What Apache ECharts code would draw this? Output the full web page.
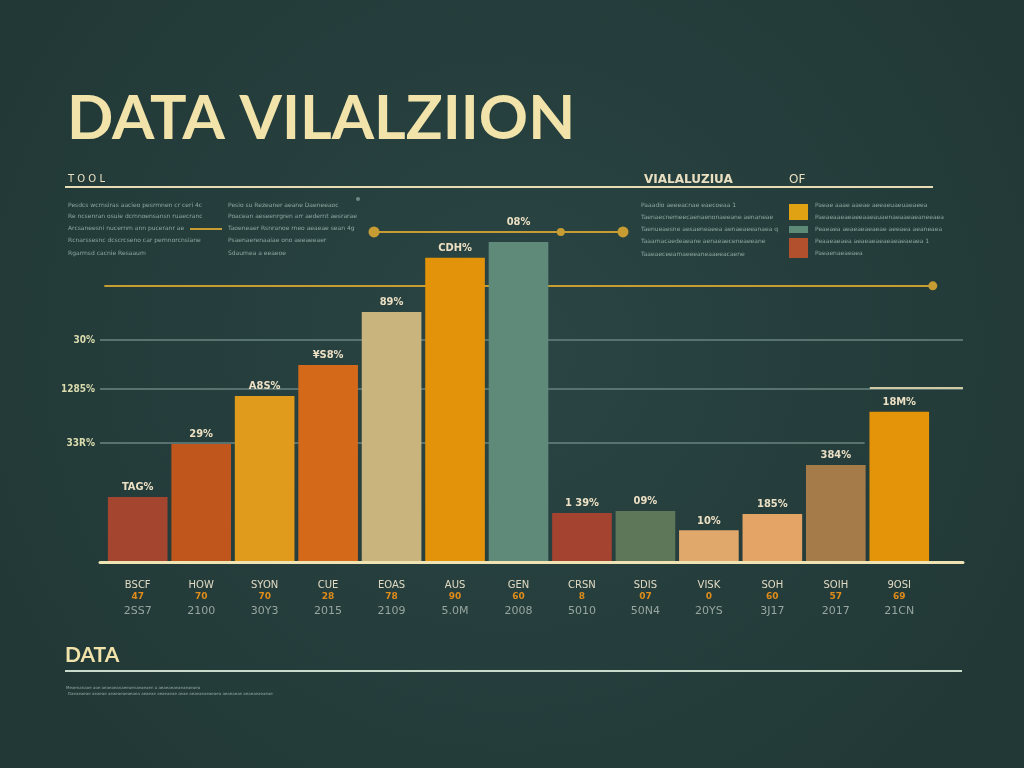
<!DOCTYPE html>
<html><head><meta charset="utf-8">
<script src="https://cdn.jsdelivr.net/npm/echarts@6/dist/echarts.min.js"></script>
<style>html,body{margin:0;padding:0;background:#274140}#c{width:1024px;height:768px}</style>
</head><body><div id="c"></div>
<script>
// ---- data ----
const categories = ['BSCF','HOW','SYON','CUE','EOAS','AUS','GEN','CRSN','SDIS','VISK','SOH','SOIH','9OSI'];
const catNums = ['47','70','70','28','78','90','60','8','07','0','60','57','69'];
const catYears = ['2SS7','2100','30Y3','2015','2109','5.0M','2008','5010','50N4','20YS','3J17','2017','21CN'];
const values = [18.6, 33.7, 47.4, 56.3, 71.4, 86.9, 91.4, 14.0, 14.6, 9.1, 13.7, 27.7, 42.9];
const valueLabels = ['TAG%','29%','A8S%','¥S8%','89%','CDH%','08%','1 39%','09%','10%','185%','384%','18M%'];
const yTickValues = [0, 19.7, 34.0, 49.4, 63.4];
const yTickLabels = ['VEC9%','SO%','33R%','1285%','30%'];
const barColors = ['#a3452f','#c0561c','#e09a1c','#d4691a','#c9b47e','#e39309','#5f8978','#a4432f','#5f7759','#e1a86b','#e3a466','#a67b4a','#e39409'];

const chart = echarts.init(document.getElementById('c'), null, {renderer:'canvas'});

const cream = '#f1e3a9';
const gold = '#c79d33';
const gridGray = '#58736f';
const smallTxt = '#8fa6a0';

function txt(x, y, text, opt) {
  return {type:'text', x:x, y:y, silent:true, style:Object.assign({text:text, fill:smallTxt, fontSize:6, fontFamily:'DejaVu Sans', verticalAlign:'middle'}, opt||{})};
}
function block(x, ys, lines) {
  return lines.map((l,i)=>txt(x, ys[i], l));
}
const ys = [205, 216, 228, 240, 253];
const b1 = ['Pesdcs wcrnsiras aacieo pesrmnen cr ceri 4c','Re ncsenran osuie dcmnoensansn ruaecranc','Arcsaneesni nucernm ann puceranr ae','Rcnarssesnc dcscrcseno car pernnorcnsiane','Rgarmsd cacnie Resaaum'];
const b2 = ['Pesio su Rezeaner aeane Daeneeaoc','Poacean aeseenrgren arr aedernt aesrarae','Taoeneaer Rsnranoe rneo aeaeae sean 4g','Psaenaerenaaiae ono aeeaeeaer','Sdaumea a eeaeoe'];
const b3 = ['Paaadio aeeeacnae eaecoeaa 1','Taenaecnemeecaenaenonaeeane aenaneae','Taenueaesne aesaeneaeea aenaeaeeanaea q','Taaamacaedeaeane aenaeaeceneaeeane','Taaeaeceeamaeeeaneaaeeacaene'];
const b4 = ['Paeae aaae aaeae aeeaeuaeuaeaeea','Paeaeaaeaeaeeaaeauaenaeaaeaeaneeaea','Peaeaea aeaeaeaeaeae aeeaea aeaneaea','Peaaeaeaea aeaeaeaeaeaeaeaeaea 1','Paeaenaeaeaea'];

const graphics = [
  {type:'text', x:67, y:119, silent:true, style:{text:'DATA VILALZIION', fill:cream, fontSize:61, fontFamily:'Lato', fontWeight:'bold', verticalAlign:'middle'}},
  {type:'text', x:68, y:179, silent:true, style:{text:'T O O L', fill:'#e9dfc0', fontSize:10, fontFamily:'DejaVu Sans', verticalAlign:'middle'}},
  {type:'text', x:644, y:180, silent:true, style:{text:'VIALALUZIUA', fill:'#e9dfc0', fontSize:12, fontWeight:'bold', fontFamily:'DejaVu Sans', verticalAlign:'middle'}},
  {type:'text', x:789, y:180, silent:true, style:{text:'OF', fill:'#e9dfc0', fontSize:12, fontFamily:'DejaVu Sans', verticalAlign:'middle'}},
  {type:'line', silent:true, shape:{x1:65, y1:187, x2:933, y2:187}, style:{stroke:'#e6ddb4', lineWidth:2}},
  {type:'circle', silent:true, shape:{cx:358, cy:199, r:2}, style:{fill:'#6f8884'}},
  {type:'line', silent:true, shape:{x1:190, y1:229, x2:222, y2:229}, style:{stroke:gold, lineWidth:2}},
  {type:'rect', silent:true, shape:{x:789, y:204, width:19, height:16}, style:{fill:'#e0a112'}},
  {type:'rect', silent:true, shape:{x:789, y:226, width:19, height:7}, style:{fill:'#5e8a78'}},
  {type:'rect', silent:true, shape:{x:789, y:238, width:19, height:20}, style:{fill:'#b24f2c'}},
  {type:'text', x:65, y:655, silent:true, style:{text:'DATA', fill:cream, fontSize:21, fontWeight:'bold', fontFamily:'Lato', verticalAlign:'middle'}},
  {type:'line', silent:true, shape:{x1:65, y1:671, x2:962, y2:671}, style:{stroke:'#c9dccb', lineWidth:2}},
  txt(66, 688, 'Meaenanaoe aoe aeaeaeanaeeaenaeaeaen a aeaeaeaeaeaeaeaea', {fontSize:4}),
  txt(68, 694, 'Daeaeaeae aeaeae aeaeaeaeaeaea aeaeae aeaeaeae aeae aeaeaeaeaeaea aeaeaeae aeaeaeaeaeae', {fontSize:4})
].concat(block(68, ys, b1), block(228, ys, b2), block(641, [205,217,229,241,254], b3), block(815, [205,217,229,241,253], b4));

const seg = (x1, x2, y, style, sym1, sym2, s1, s2) => [
  {coord:[x1,y], symbol:sym1||'none', symbolSize:s1||0, lineStyle:style, label:{show:false}},
  {coord:[x2,y], symbol:sym2||'none', symbolSize:s2||0}
];

// lines behind the bars
const backLines = [
  {yAxis:yTickValues[0], lineStyle:{opacity:0}, label:{formatter:yTickLabels[0]}},
  {yAxis:yTickValues[1], lineStyle:{opacity:0}, label:{formatter:yTickLabels[1]}},
  [{coord:[0,yTickValues[2]], symbol:'none', label:{formatter:yTickLabels[2]}}, {coord:[88.6,yTickValues[2]], symbol:'none'}],
  {yAxis:yTickValues[3], label:{formatter:yTickLabels[3]}},
  {yAxis:yTickValues[4], label:{formatter:yTickLabels[4]}},
  seg(89.2, 100, 49.7, {color:'#cfc9a4', width:2}),
  seg(0.5, 96.5, 78.9, {color:gold, width:2}, 'none', 'circle', 0, 9)
];
// top gold connector (above everything)
const topLines = [
  seg(31.75, 53.4, 94.3, {color:gold, width:2}, 'circle', 'circle', 11, 8),
  seg(53.4, 60.6, 94.3, {color:gold, width:2}, 'none', 'circle', 0, 11)
];

const option = {
  animation:false,
  backgroundColor:{type:'radial', x:0.5, y:0.45, r:0.75, colorStops:[{offset:0,color:'#2a4544'},{offset:1,color:'#213836'}]},
  graphic:graphics,
  grid:[
    {left:100, right:61, top:212, bottom:206},
    {left:106, right:93, top:212, bottom:206}
  ],
  xAxis:[
    {gridIndex:0, type:'value', min:0, max:100, axisLine:{show:true, lineStyle:{color:'#efe2b3', width:3}}, axisTick:{show:false}, axisLabel:{show:false}, splitLine:{show:false}, z:4},
    {gridIndex:1, type:'category', data:categories, axisLine:{show:false}, axisTick:{show:false},
     axisLabel:{margin:18, interval:0,
       formatter:(v,i)=>'{a|'+v+'}\n{b|'+catNums[i]+'}\n{c|'+catYears[i]+'}',
       rich:{
         a:{fontSize:10, lineHeight:11, color:'#e1d9c2', fontFamily:'DejaVu Sans'},
         b:{fontSize:9, lineHeight:11, color:'#e08c1a', fontWeight:'bold', fontFamily:'DejaVu Sans'},
         c:{fontSize:11, lineHeight:19, color:'#98a69f', fontFamily:'DejaVu Sans'}
       }}}
  ],
  yAxis:[
    {gridIndex:0, type:'value', min:0, max:100, show:false},
    {gridIndex:1, type:'value', min:0, max:100, show:false}
  ],
  series:[
    {type:'line', xAxisIndex:0, yAxisIndex:0, data:[], z:1, silent:true,
     markLine:{silent:true, symbol:'none', animation:false, z:1,
       lineStyle:{color:gridGray, width:2, type:'solid'},
       label:{show:true, position:'start', distance:5, color:'#dadcae', fontSize:10, fontWeight:'bold', fontFamily:'DejaVu Sans Condensed, DejaVu Sans'},
       emphasis:{disabled:true},
       data: backLines}},
    {type:'line', xAxisIndex:0, yAxisIndex:0, data:[], z:6, silent:true,
     markLine:{silent:true, symbol:'none', animation:false, z:6,
       lineStyle:{color:gold, width:2, type:'solid'},
       label:{show:false},
       emphasis:{disabled:true},
       data: topLines}},
    {type:'bar', xAxisIndex:1, yAxisIndex:1, z:3, barWidth:'94%',
     data: values.map((v,i)=>({value:v, itemStyle:{color:barColors[i]}, label: i===6 ? {distance:14} : undefined})),
     label:{show:true, position:'top', distance:4, color:'#ece0c4', fontSize:11, fontWeight:'bold', fontFamily:'DejaVu Sans Condensed, DejaVu Sans',
       formatter:(p)=>valueLabels[p.dataIndex]}}
  ]
};
chart.setOption(option);
</script>
</body></html>
